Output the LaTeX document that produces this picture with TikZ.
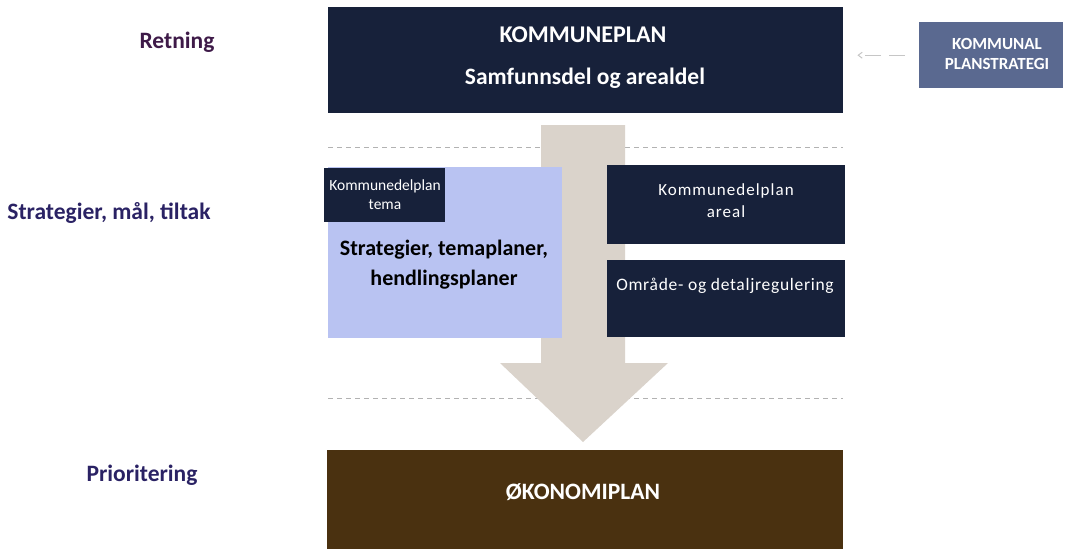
\documentclass[tikz,border=0pt]{standalone}
\usepackage{fontspec}
\setmainfont{Carlito}
\usetikzlibrary{arrows.meta}
\definecolor{navy}{HTML}{17213A}
\definecolor{slate}{HTML}{5A6990}
\definecolor{lblue}{HTML}{B9C3F2}
\definecolor{brownb}{HTML}{4A3110}
\definecolor{arrowc}{HTML}{DAD3CB}
\definecolor{purp}{HTML}{3E1A48}
\definecolor{indig}{HTML}{2A2264}
\begin{document}
\begin{tikzpicture}[x=1pt,y=-1pt,
  box/.style={draw=none,fill=navy,text=white,inner sep=0pt,anchor=north west},
  lab/.style={font=\bfseries\fontsize{23.5}{26}\selectfont},
  dline/.style={draw=gray!60,dashed,dash pattern=on 5pt off 4pt,line width=0.8pt}]
\useasboundingbox (0,0) rectangle (1065,549);
% dashed separators
\draw[dline] (328,147) -- (843,147);
\draw[dline] (328,398) -- (843,398);
% big arrow
\fill[arrowc] (541,125) -- (625,125) -- (625,363) -- (668,363) -- (583,442) -- (500,363) -- (541,363) -- cycle;
% top box
\node[box,minimum width=515pt,minimum height=106pt] (kp) at (328,7) {};
\node[text=white,font=\bfseries\fontsize{24}{28}\selectfont] (kpt) at (583,35) {KOMMUNEPLAN};
\node[text=white,font=\bfseries\fontsize{23.5}{28}\selectfont] (kps) at (585,78) {Samfunnsdel og arealdel};
% planstrategi
\node[box,fill=slate,minimum width=144pt,minimum height=66pt] (ps) at (919,22) {};
\node[text=white,font=\bfseries\fontsize{17}{20}\selectfont,align=center] (pst) at (997,54) {KOMMUNAL\\PLANSTRATEGI};
\draw[-{Straight Barb[length=4pt,width=6pt]},draw=gray!45,line width=1pt,dash pattern=on 16pt off 8pt] ([xshift=-14pt]ps.west) -- ([xshift=14pt]ps.west -| kp.east);
% light blue
\node[box,fill=lblue,minimum width=234pt,minimum height=171pt] (lb) at (328,167) {};
\node[box,minimum width=121pt,minimum height=54pt] (kdt) at (324,168) {};
\node[text=white,font=\fontsize{15.5}{19}\selectfont,align=center] at (385,195) {Kommunedelplan\\tema};
\node[text=black,font=\bfseries\fontsize{22}{30}\selectfont,align=center] (str) at (444,265) {Strategier, temaplaner,\\hendlingsplaner};
% right boxes
\node[box,minimum width=238pt,minimum height=79pt] (kda) at (607,165) {};
\node[text=white,font=\fontsize{17}{22}\selectfont,align=center,text width=230pt] at (726,201) {\addfontfeatures{LetterSpace=6}Kommunedelplan\\areal};
\node[box,minimum width=238pt,minimum height=77pt] (odr) at (607,260) {};
\node[text=white,font=\fontsize{17.5}{22}\selectfont] at (725,286) {\addfontfeatures{LetterSpace=4}Område- og detaljregulering};
% economy
\node[box,fill=brownb,minimum width=516pt,minimum height=99pt] (ok) at (327,450) {};
\node[text=white,font=\bfseries\fontsize{23.5}{26}\selectfont] (okt) at (583,492) {ØKONOMIPLAN};
% left labels
\node[lab,text=purp] (r) at (177,42) {Retning};
\node[lab,text=indig] (s) at (109,213) {Strategier, mål, tiltak};
\node[lab,text=indig] (p) at (142,475) {Prioritering};
\end{tikzpicture}
\end{document}
